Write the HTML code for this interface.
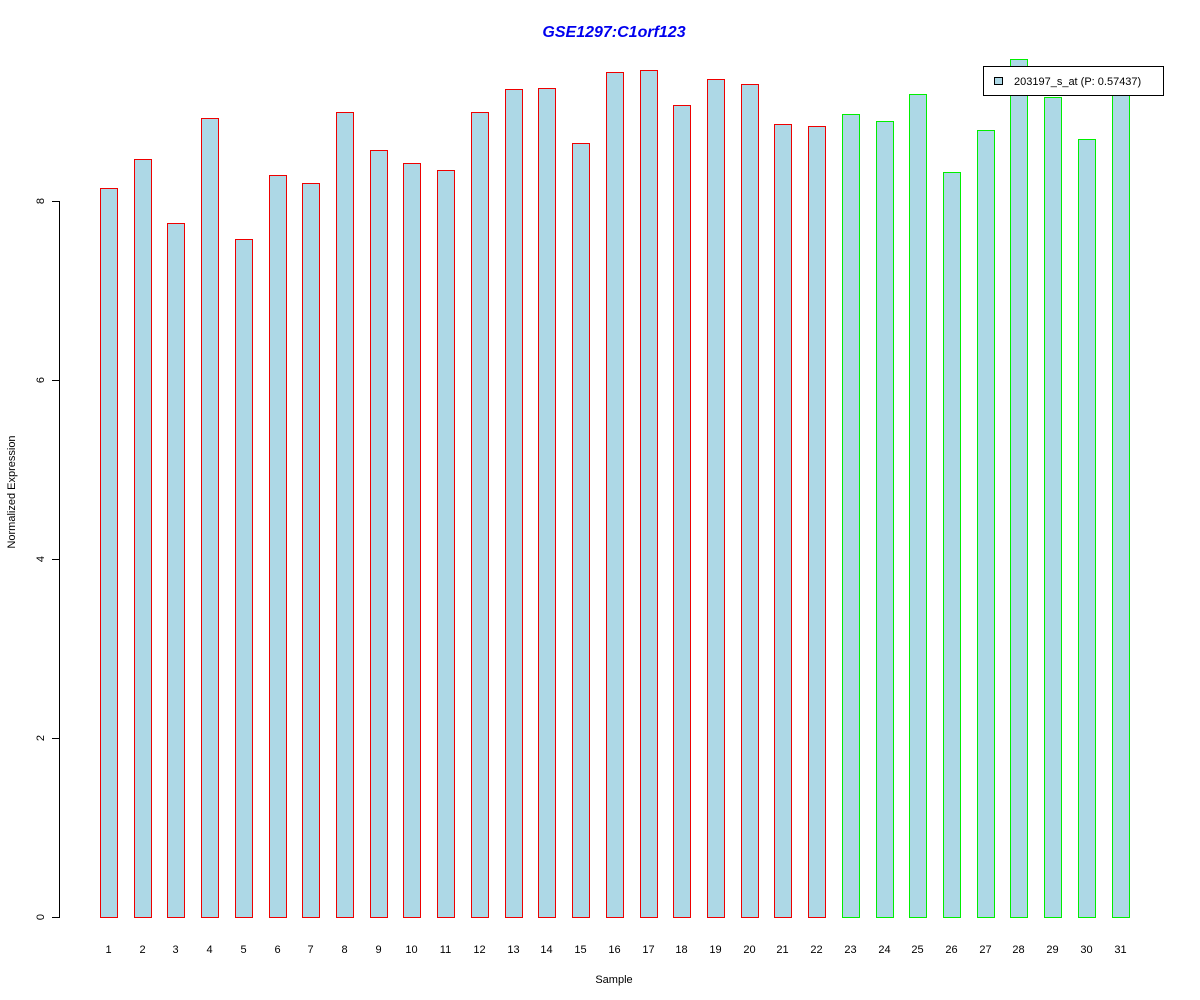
<!DOCTYPE html>
<html><head><meta charset="utf-8"><style>body{margin:0;background:#fff}svg{display:block}text{font-family:"Liberation Sans",Arial,sans-serif}</style></head>
<body>
<svg id="s" width="1200" height="1000" xmlns="http://www.w3.org/2000/svg" shape-rendering="crispEdges">
<rect width="1200" height="1000" fill="#fff"/>
<text x="614" y="37" text-anchor="middle" font-size="16" font-weight="bold" font-style="italic" fill="#0000ee">GSE1297:C1orf123</text>
<rect x="59" y="201" width="1" height="717" fill="#000"/>
<g id="yt"></g>
<text x="614" y="983" text-anchor="middle" font-size="11">Sample</text>
<text transform="translate(15,492) rotate(-90)" text-anchor="middle" font-size="11">Normalized Expression</text>
<g id="bars"></g>
<rect x="983" y="66" width="181" height="30" fill="#000"/>
<rect x="984" y="67" width="179" height="28" fill="#fff"/>
<rect x="994" y="77" width="9" height="8" fill="#000"/>
<rect x="995" y="78" width="7" height="6" fill="#add8e6"/>
<text x="1014" y="85" font-size="11">203197_s_at (P: 0.57437)</text>
</svg>
<script>
var tops=[188,159,223,118,239,175,183,112,150,163,170,112,89,88,143,72,70,105,79,84,124,126,114,121,94,172,130,59,97,139,90];
var b='',t='';
for(var i=0;i<31;i++){var x=Math.round(100+i*33.72),c=i<22?'#ee0000':'#00ee00',h=917-tops[i]+1;
b+='<rect x="'+x+'" y="'+tops[i]+'" width="18" height="'+h+'" fill="'+c+'"/>';
b+='<rect x="'+(x+1)+'" y="'+(tops[i]+1)+'" width="16" height="'+(h-2)+'" fill="#add8e6"/>';
b+='<text x="'+(x+8.5)+'" y="953" text-anchor="middle" font-size="11">'+(i+1)+'</text>';}
for(var v=0;v<=8;v+=2){var y=917-Math.round(v*89.5);t+='<rect x="52" y="'+y+'" width="8" height="1" fill="#000"/><text transform="translate(44,'+y+') rotate(-90)" text-anchor="middle" font-size="11">'+v+'</text>';}
document.getElementById('bars').innerHTML=b;document.getElementById('yt').innerHTML=t;
</script>
</body></html>
